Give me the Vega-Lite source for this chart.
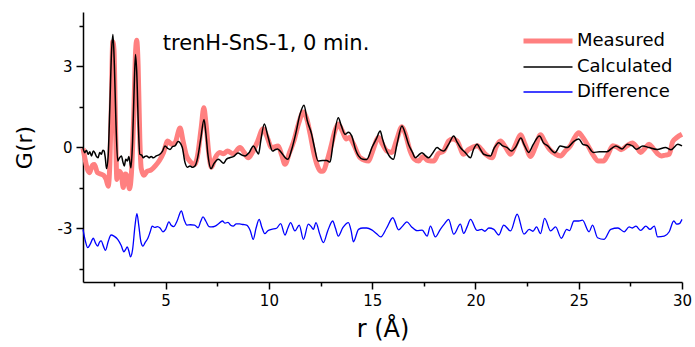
{
"$schema": "https://vega.github.io/schema/vega-lite/v6.json",
"autosize": "none",
"width": 599,
"height": 270,
"padding": {"left": 83, "top": 12, "right": 13, "bottom": 65},
"background": "white",
"config": {"view": {"stroke": null}, "font": "DejaVu Sans"},
"datasets": {
"m": [
{"r":1.0,"G":-0.05},{"r":1.1,"G":-0.45},{"r":1.2,"G":-0.8},{"r":1.32,"G":-0.95},{"r":1.45,"G":-0.68},{"r":1.55,"G":-0.65},{"r":1.7,"G":-0.95},{"r":1.85,"G":-1.0},{"r":2.0,"G":-1.05},{"r":2.12,"G":-1.2},{"r":2.22,"G":-1.45},{"r":2.3,"G":-0.6},{"r":2.37,"G":1.5},{"r":2.44,"G":3.9},{"r":2.5,"G":3.6},{"r":2.57,"G":1.0},{"r":2.64,"G":-1.2},{"r":2.75,"G":-0.9},{"r":2.85,"G":-1.0},{"r":2.95,"G":-1.5},{"r":3.05,"G":-1.0},{"r":3.15,"G":-1.1},{"r":3.25,"G":-1.55},{"r":3.35,"G":-0.9},{"r":3.45,"G":1.0},{"r":3.55,"G":3.6},{"r":3.6,"G":3.95},{"r":3.67,"G":3.0},{"r":3.75,"G":0.3},{"r":3.82,"G":-0.8},{"r":3.95,"G":-1.05},{"r":4.1,"G":-0.9},{"r":4.3,"G":-0.85},{"r":4.5,"G":-0.7},{"r":4.7,"G":-0.5},{"r":4.9,"G":-0.2},{"r":5.1,"G":0.22},{"r":5.3,"G":0.1},{"r":5.45,"G":0.15},{"r":5.7,"G":0.7},{"r":5.85,"G":0.2},{"r":6.0,"G":-0.3},{"r":6.2,"G":-0.55},{"r":6.4,"G":-0.65},{"r":6.55,"G":-0.3},{"r":6.72,"G":0.7},{"r":6.85,"G":1.45},{"r":6.95,"G":0.9},{"r":7.1,"G":-0.3},{"r":7.22,"G":-0.75},{"r":7.4,"G":-0.4},{"r":7.62,"G":-0.2},{"r":7.8,"G":-0.25},{"r":8.0,"G":-0.15},{"r":8.27,"G":-0.25},{"r":8.6,"G":-0.02},{"r":8.8,"G":-0.2},{"r":9.0,"G":-0.4},{"r":9.2,"G":-0.2},{"r":9.45,"G":0.2},{"r":9.72,"G":0.68},{"r":9.9,"G":0.4},{"r":10.13,"G":-0.02},{"r":10.45,"G":0.04},{"r":10.62,"G":-0.3},{"r":10.78,"G":-0.64},{"r":11.0,"G":-0.2},{"r":11.2,"G":0.2},{"r":11.45,"G":0.9},{"r":11.67,"G":1.3},{"r":11.85,"G":1.0},{"r":12.0,"G":0.47},{"r":12.2,"G":-0.3},{"r":12.35,"G":-0.7},{"r":12.5,"G":-0.9},{"r":12.64,"G":-0.89},{"r":12.8,"G":-0.55},{"r":13.0,"G":0.0},{"r":13.2,"G":0.6},{"r":13.36,"G":0.85},{"r":13.55,"G":0.6},{"r":13.75,"G":0.3},{"r":13.9,"G":0.35},{"r":14.1,"G":0.1},{"r":14.42,"G":-0.4},{"r":14.82,"G":-0.52},{"r":15.0,"G":-0.2},{"r":15.31,"G":0.35},{"r":15.5,"G":0.1},{"r":15.71,"G":-0.15},{"r":15.95,"G":-0.2},{"r":16.2,"G":0.3},{"r":16.44,"G":0.75},{"r":16.6,"G":0.5},{"r":16.84,"G":-0.15},{"r":17.05,"G":-0.45},{"r":17.25,"G":-0.52},{"r":17.45,"G":-0.35},{"r":17.7,"G":-0.5},{"r":17.98,"G":-0.52},{"r":18.2,"G":-0.25},{"r":18.46,"G":-0.15},{"r":18.7,"G":0.22},{"r":18.9,"G":0.3},{"r":19.11,"G":0.22},{"r":19.43,"G":-0.27},{"r":19.65,"G":-0.1},{"r":19.84,"G":-0.02},{"r":20.1,"G":0.05},{"r":20.3,"G":-0.1},{"r":20.49,"G":-0.27},{"r":20.81,"G":-0.4},{"r":21.0,"G":0.0},{"r":21.21,"G":0.22},{"r":21.45,"G":0.0},{"r":21.7,"G":-0.27},{"r":21.95,"G":0.1},{"r":22.19,"G":0.45},{"r":22.4,"G":0.1},{"r":22.67,"G":-0.35},{"r":22.9,"G":0.0},{"r":23.15,"G":0.45},{"r":23.35,"G":0.2},{"r":23.6,"G":-0.1},{"r":23.85,"G":-0.25},{"r":24.12,"G":-0.33},{"r":24.35,"G":-0.15},{"r":24.6,"G":0.05},{"r":24.8,"G":0.35},{"r":25.0,"G":0.53},{"r":25.2,"G":0.35},{"r":25.45,"G":0.05},{"r":25.7,"G":-0.3},{"r":25.95,"G":-0.52},{"r":26.2,"G":-0.52},{"r":26.4,"G":-0.3},{"r":26.65,"G":0.05},{"r":26.85,"G":0.0},{"r":27.05,"G":-0.1},{"r":27.35,"G":0.05},{"r":27.6,"G":0.15},{"r":27.8,"G":0.0},{"r":28.0,"G":-0.2},{"r":28.2,"G":-0.05},{"r":28.41,"G":0.1},{"r":28.6,"G":-0.05},{"r":28.82,"G":-0.25},{"r":29.0,"G":-0.33},{"r":29.2,"G":-0.3},{"r":29.38,"G":-0.27},{"r":29.55,"G":0.2},{"r":29.75,"G":0.35},{"r":30.0,"G":0.47}
],
"c": [
{"r":1.0,"G":-0.02},{"r":1.08,"G":-0.21},{"r":1.17,"G":-0.12},{"r":1.25,"G":-0.27},{"r":1.33,"G":-0.18},{"r":1.41,"G":-0.33},{"r":1.5,"G":-0.15},{"r":1.57,"G":-0.21},{"r":1.65,"G":-0.35},{"r":1.73,"G":-0.4},{"r":1.81,"G":-0.2},{"r":1.89,"G":-0.27},{"r":1.96,"G":-0.12},{"r":2.02,"G":-0.15},{"r":2.08,"G":-0.4},{"r":2.14,"G":-0.8},{"r":2.22,"G":-0.3},{"r":2.3,"G":1.5},{"r":2.38,"G":3.5},{"r":2.45,"G":4.17},{"r":2.52,"G":3.0},{"r":2.6,"G":0.8},{"r":2.68,"G":-0.52},{"r":2.77,"G":-0.4},{"r":2.86,"G":-0.33},{"r":2.93,"G":-0.55},{"r":3.0,"G":-0.7},{"r":3.07,"G":-0.45},{"r":3.15,"G":-0.52},{"r":3.22,"G":-0.35},{"r":3.32,"G":-0.77},{"r":3.4,"G":0.2},{"r":3.47,"G":2.0},{"r":3.54,"G":3.43},{"r":3.6,"G":2.8},{"r":3.68,"G":0.8},{"r":3.75,"G":-0.27},{"r":3.84,"G":-0.3},{"r":3.92,"G":-0.4},{"r":4.0,"G":-0.35},{"r":4.08,"G":-0.33},{"r":4.2,"G":-0.4},{"r":4.3,"G":-0.35},{"r":4.4,"G":-0.4},{"r":4.55,"G":-0.33},{"r":4.72,"G":-0.27},{"r":4.85,"G":-0.15},{"r":4.97,"G":0.04},{"r":5.1,"G":-0.05},{"r":5.21,"G":-0.09},{"r":5.35,"G":0.02},{"r":5.45,"G":0.04},{"r":5.6,"G":0.2},{"r":5.8,"G":0.0},{"r":5.94,"G":-0.58},{"r":6.05,"G":-0.75},{"r":6.18,"G":-0.7},{"r":6.3,"G":-0.75},{"r":6.42,"G":-0.7},{"r":6.55,"G":-0.4},{"r":6.7,"G":0.3},{"r":6.86,"G":1.02},{"r":6.95,"G":0.5},{"r":7.05,"G":-0.3},{"r":7.2,"G":-0.8},{"r":7.35,"G":-0.6},{"r":7.55,"G":-0.45},{"r":7.65,"G":-0.5},{"r":7.8,"G":-0.6},{"r":7.95,"G":-0.45},{"r":8.1,"G":-0.4},{"r":8.3,"G":-0.35},{"r":8.5,"G":-0.22},{"r":8.7,"G":-0.3},{"r":8.85,"G":-0.33},{"r":9.05,"G":-0.2},{"r":9.25,"G":0.04},{"r":9.4,"G":-0.15},{"r":9.5,"G":-0.26},{"r":9.6,"G":0.2},{"r":9.78,"G":0.85},{"r":9.95,"G":0.4},{"r":10.18,"G":-0.15},{"r":10.3,"G":-0.1},{"r":10.42,"G":-0.07},{"r":10.6,"G":-0.2},{"r":10.8,"G":-0.4},{"r":10.92,"G":-0.45},{"r":11.1,"G":-0.1},{"r":11.3,"G":0.5},{"r":11.5,"G":1.2},{"r":11.7,"G":1.55},{"r":11.85,"G":1.0},{"r":12.07,"G":0.47},{"r":12.2,"G":0.0},{"r":12.38,"G":-0.52},{"r":12.6,"G":-0.5},{"r":12.8,"G":-0.5},{"r":12.96,"G":-0.56},{"r":13.1,"G":0.1},{"r":13.36,"G":1.08},{"r":13.5,"G":0.8},{"r":13.69,"G":0.47},{"r":13.85,"G":0.55},{"r":14.01,"G":0.41},{"r":14.2,"G":-0.1},{"r":14.34,"G":-0.33},{"r":14.55,"G":-0.45},{"r":14.74,"G":-0.46},{"r":15.0,"G":0.0},{"r":15.2,"G":0.3},{"r":15.39,"G":0.59},{"r":15.5,"G":0.3},{"r":15.63,"G":-0.02},{"r":15.8,"G":-0.3},{"r":16.03,"G":-0.45},{"r":16.2,"G":0.1},{"r":16.44,"G":0.78},{"r":16.6,"G":0.5},{"r":16.76,"G":0.1},{"r":16.95,"G":-0.2},{"r":17.09,"G":-0.4},{"r":17.25,"G":-0.3},{"r":17.41,"G":-0.21},{"r":17.55,"G":-0.3},{"r":17.73,"G":-0.4},{"r":17.95,"G":-0.2},{"r":18.14,"G":-0.02},{"r":18.3,"G":-0.1},{"r":18.46,"G":-0.15},{"r":18.7,"G":0.1},{"r":18.95,"G":0.41},{"r":19.1,"G":0.2},{"r":19.27,"G":-0.02},{"r":19.5,"G":-0.2},{"r":19.76,"G":-0.4},{"r":19.9,"G":-0.1},{"r":20.08,"G":0.1},{"r":20.25,"G":-0.1},{"r":20.4,"G":-0.27},{"r":20.73,"G":-0.33},{"r":20.9,"G":-0.05},{"r":21.13,"G":0.16},{"r":21.3,"G":0.05},{"r":21.54,"G":-0.02},{"r":21.75,"G":-0.15},{"r":21.95,"G":0.0},{"r":22.2,"G":0.33},{"r":22.35,"G":0.1},{"r":22.58,"G":-0.2},{"r":22.8,"G":0.1},{"r":23.1,"G":0.41},{"r":23.3,"G":0.15},{"r":23.5,"G":0.04},{"r":23.85,"G":-0.21},{"r":24.1,"G":0.04},{"r":24.45,"G":-0.02},{"r":24.75,"G":0.2},{"r":25.0,"G":0.3},{"r":25.2,"G":0.1},{"r":25.42,"G":0.05},{"r":25.7,"G":-0.2},{"r":26.0,"G":-0.18},{"r":26.35,"G":-0.18},{"r":26.6,"G":-0.05},{"r":26.8,"G":0.04},{"r":27.1,"G":-0.07},{"r":27.35,"G":0.1},{"r":27.6,"G":0.04},{"r":27.8,"G":-0.08},{"r":28.1,"G":0.04},{"r":28.4,"G":-0.02},{"r":28.8,"G":-0.09},{"r":29.2,"G":-0.02},{"r":29.47,"G":-0.1},{"r":29.8,"G":0.1},{"r":30.0,"G":0.04}
],
"d": [
{"r":1.0,"G":-3.05},{"r":1.12,"G":-3.5},{"r":1.23,"G":-3.73},{"r":1.35,"G":-3.6},{"r":1.5,"G":-3.38},{"r":1.6,"G":-3.55},{"r":1.71,"G":-3.67},{"r":1.8,"G":-3.52},{"r":1.88,"G":-3.48},{"r":2.0,"G":-3.7},{"r":2.09,"G":-3.83},{"r":2.22,"G":-3.5},{"r":2.36,"G":-3.26},{"r":2.5,"G":-3.3},{"r":2.68,"G":-3.42},{"r":2.85,"G":-3.65},{"r":2.98,"G":-3.88},{"r":3.06,"G":-3.8},{"r":3.14,"G":-3.7},{"r":3.22,"G":-3.85},{"r":3.3,"G":-4.07},{"r":3.4,"G":-3.8},{"r":3.52,"G":-2.9},{"r":3.61,"G":-2.47},{"r":3.7,"G":-2.9},{"r":3.8,"G":-3.5},{"r":3.9,"G":-3.67},{"r":4.0,"G":-3.55},{"r":4.14,"G":-3.38},{"r":4.25,"G":-3.15},{"r":4.35,"G":-2.93},{"r":4.47,"G":-2.98},{"r":4.6,"G":-2.95},{"r":4.73,"G":-3.0},{"r":4.87,"G":-3.14},{"r":5.0,"G":-3.05},{"r":5.16,"G":-2.77},{"r":5.27,"G":-2.9},{"r":5.39,"G":-2.95},{"r":5.55,"G":-2.75},{"r":5.76,"G":-2.37},{"r":5.9,"G":-2.7},{"r":6.03,"G":-2.89},{"r":6.2,"G":-2.88},{"r":6.4,"G":-2.89},{"r":6.57,"G":-2.99},{"r":6.7,"G":-2.75},{"r":6.81,"G":-2.59},{"r":6.95,"G":-2.75},{"r":7.1,"G":-2.95},{"r":7.22,"G":-2.96},{"r":7.4,"G":-2.93},{"r":7.55,"G":-2.85},{"r":7.75,"G":-2.74},{"r":7.88,"G":-2.82},{"r":8.02,"G":-2.79},{"r":8.15,"G":-2.9},{"r":8.27,"G":-2.93},{"r":8.42,"G":-2.85},{"r":8.58,"G":-2.85},{"r":8.75,"G":-2.87},{"r":8.92,"G":-2.89},{"r":9.1,"G":-3.1},{"r":9.24,"G":-3.42},{"r":9.38,"G":-3.0},{"r":9.53,"G":-2.68},{"r":9.65,"G":-2.95},{"r":9.8,"G":-3.21},{"r":9.95,"G":-3.1},{"r":10.13,"G":-3.05},{"r":10.37,"G":-3.01},{"r":10.57,"G":-2.84},{"r":10.78,"G":-3.26},{"r":10.92,"G":-3.0},{"r":11.05,"G":-2.8},{"r":11.26,"G":-3.11},{"r":11.47,"G":-2.89},{"r":11.67,"G":-3.42},{"r":11.91,"G":-2.86},{"r":12.05,"G":-2.95},{"r":12.15,"G":-3.05},{"r":12.28,"G":-2.8},{"r":12.45,"G":-3.2},{"r":12.64,"G":-3.54},{"r":12.85,"G":-3.1},{"r":13.09,"G":-2.74},{"r":13.22,"G":-3.0},{"r":13.36,"G":-3.3},{"r":13.58,"G":-2.99},{"r":13.85,"G":-2.8},{"r":13.98,"G":-3.1},{"r":14.09,"G":-3.51},{"r":14.34,"G":-3.05},{"r":14.55,"G":-3.0},{"r":14.74,"G":-3.0},{"r":14.98,"G":-3.07},{"r":15.2,"G":-3.2},{"r":15.42,"G":-3.33},{"r":15.7,"G":-3.0},{"r":16.0,"G":-2.62},{"r":16.28,"G":-3.07},{"r":16.45,"G":-2.95},{"r":16.68,"G":-2.77},{"r":16.9,"G":-2.95},{"r":17.17,"G":-3.1},{"r":17.42,"G":-3.08},{"r":17.66,"G":-3.3},{"r":17.82,"G":-2.93},{"r":18.06,"G":-3.33},{"r":18.3,"G":-3.05},{"r":18.5,"G":-2.85},{"r":18.7,"G":-2.68},{"r":18.95,"G":-3.23},{"r":19.27,"G":-2.86},{"r":19.43,"G":-3.2},{"r":19.6,"G":-2.95},{"r":19.76,"G":-2.68},{"r":20.08,"G":-3.09},{"r":20.3,"G":-3.05},{"r":20.45,"G":-3.12},{"r":20.65,"G":-3.0},{"r":20.89,"G":-3.05},{"r":21.13,"G":-3.26},{"r":21.37,"G":-2.89},{"r":21.7,"G":-3.11},{"r":22.02,"G":-2.49},{"r":22.35,"G":-3.23},{"r":22.6,"G":-3.05},{"r":22.78,"G":-3.12},{"r":22.96,"G":-2.96},{"r":23.15,"G":-3.21},{"r":23.35,"G":-2.64},{"r":23.64,"G":-3.11},{"r":23.88,"G":-2.96},{"r":24.16,"G":-3.38},{"r":24.42,"G":-3.05},{"r":24.55,"G":-3.1},{"r":24.77,"G":-2.74},{"r":25.0,"G":-2.74},{"r":25.18,"G":-2.71},{"r":25.5,"G":-3.14},{"r":25.67,"G":-2.89},{"r":25.91,"G":-3.36},{"r":26.23,"G":-3.42},{"r":26.55,"G":-3.05},{"r":26.9,"G":-3.0},{"r":27.2,"G":-3.14},{"r":27.44,"G":-2.96},{"r":27.6,"G":-3.0},{"r":27.77,"G":-2.93},{"r":28.0,"G":-3.09},{"r":28.25,"G":-2.93},{"r":28.45,"G":-3.05},{"r":28.66,"G":-2.93},{"r":28.82,"G":-3.33},{"r":29.14,"G":-3.3},{"r":29.38,"G":-3.14},{"r":29.6,"G":-2.74},{"r":29.75,"G":-2.86},{"r":29.87,"G":-2.84},{"r":30.0,"G":-2.68}
],
"label": [{"r": 4.86, "G": 3.59, "t": "trenH-SnS-1, 0 min."}]
},
"encoding": {
"x": {"field": "r", "type": "quantitative",
 "scale": {"domain": [1, 30], "nice": false, "zero": false},
 "axis": {"title": "r (Å)", "values": [2.5,5,7.5,10,12.5,15,17.5,20,22.5,25,27.5,30],
  "labelExpr": "datum.value % 5 === 0 ? datum.label : ''",
  "tickSize": {"condition": {"test": "datum.value % 5 === 0", "value": 7}, "value": 4},
  "grid": false, "domainColor": "black", "domainWidth": 1.5, "tickColor": "black", "tickWidth": 1.5,
  "labelFont": "DejaVu Sans", "labelFontSize": 15, "labelColor": "black", "labelPadding": 4,
  "labelOverlap": false, "labelFlush": false,
  "titleFont": "DejaVu Sans", "titleFontSize": 24, "titleFontWeight": "normal", "titleColor": "black", "titlePadding": 9}},
"y": {"field": "G", "type": "quantitative",
 "scale": {"domain": [-5, 5], "nice": false, "zero": false},
 "axis": {"title": "G(r)", "values": [-4.5,-3,-1.5,0,1.5,3,4.5],
  "labelExpr": "datum.value % 3 === 0 ? '' + datum.value : ''",
  "tickSize": {"condition": {"test": "datum.value % 3 === 0", "value": 7}, "value": 4},
  "grid": false, "domainColor": "black", "domainWidth": 1.5, "tickColor": "black", "tickWidth": 1.5,
  "labelFont": "DejaVu Sans", "labelFontSize": 15, "labelColor": "black", "labelPadding": 4,
  "labelOverlap": false, "labelFlush": false,
  "titleFont": "DejaVu Sans", "titleFontSize": 22, "titleFontWeight": "normal", "titleColor": "black", "titlePadding": 21}}
},
"layer": [
{"data": {"name": "m"},
 "transform": [{"calculate": "'Measured'", "as": "s"}],
 "mark": {"type": "line", "strokeWidth": 5, "interpolate": "monotone"},
 "encoding": {"color": {"field": "s", "type": "nominal",
  "scale": {"domain": ["Measured", "Calculated", "Difference"], "range": ["#FF8080", "#000000", "#0000FF"]},
  "legend": {"title": null, "orient": "none", "legendX": 456, "legendY": 20, "symbolType": "stroke", "symbolSize": 2401,
   "labelFont": "DejaVu Sans", "labelFontSize": 18, "labelColor": "black", "labelOffset": 20, "rowPadding": 7,
   "encode": {"symbols": {"update": {"strokeWidth": {"signal": "datum.value === 'Measured' ? 5 : 1.5"}}}}}}}},
{"data": {"name": "c"},
 "transform": [{"calculate": "'Calculated'", "as": "s"}],
 "mark": {"type": "line", "strokeWidth": 1.5, "interpolate": "monotone"},
 "encoding": {"color": {"field": "s", "type": "nominal",
  "scale": {"domain": ["Measured", "Calculated", "Difference"], "range": ["#FF8080", "#000000", "#0000FF"]}}}},
{"data": {"name": "d"},
 "transform": [{"calculate": "'Difference'", "as": "s"}],
 "mark": {"type": "line", "strokeWidth": 1.3, "interpolate": "monotone"},
 "encoding": {"color": {"field": "s", "type": "nominal",
  "scale": {"domain": ["Measured", "Calculated", "Difference"], "range": ["#FF8080", "#000000", "#0000FF"]}}}},
{"data": {"name": "label"},
 "mark": {"type": "text", "align": "left", "baseline": "alphabetic", "font": "DejaVu Sans", "fontSize": 21, "color": "black"},
 "encoding": {"text": {"field": "t", "type": "nominal"}}}
]
}
